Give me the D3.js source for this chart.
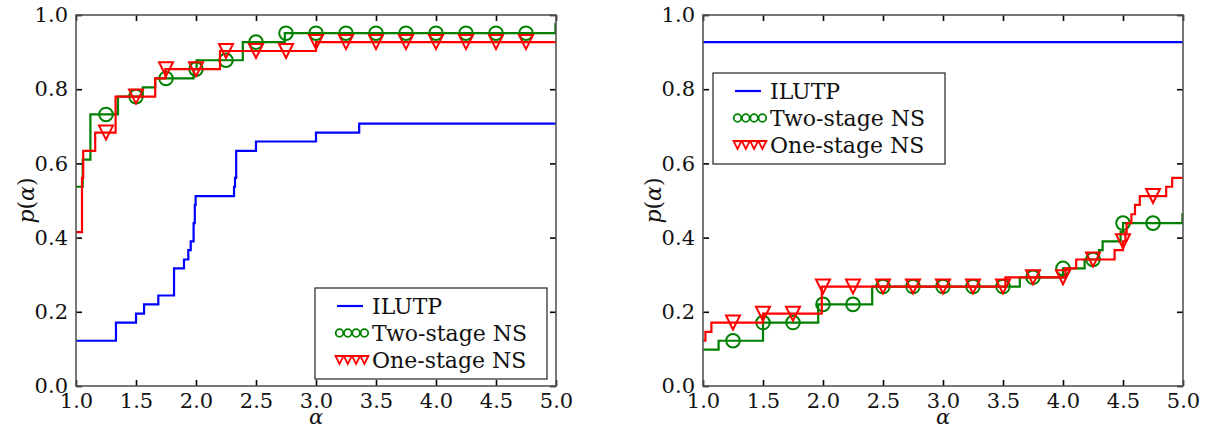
<!DOCTYPE html>
<html>
<head>
<meta charset="utf-8">
<script src="https://cdn.jsdelivr.net/npm/d3@7"></script>
<style>
  body { margin: 0; background: #fff; }
  svg { display: block; }
</style>
</head>
<body>
<script>
// Tick values and marker positions
const alphaTicks = [1.0, 1.5, 2.0, 2.5, 3.0, 3.5, 4.0, 4.5, 5.0]
const pTicks = [0.0, 0.2, 0.4, 0.6, 0.8, 1.0]
const markerAlphas = [1.25, 1.5, 1.75, 2.0, 2.25, 2.5, 2.75, 3.0, 3.25, 3.5, 3.75, 4.0, 4.25, 4.5, 4.75]
const seriesNames = ['ILUTP', 'Two-stage NS', 'One-stage NS']
const seriesColors = ['#0000ff', '#008000', '#ff0000']

// Left panel: [alpha, p(alpha)] where each step starts
const leftIlutp = [[1.0, 0.122], [1.333, 0.171], [1.5, 0.195], [1.567, 0.22], [1.686, 0.244], [1.817, 0.317],
	[1.9, 0.341], [1.936, 0.366], [1.956, 0.39], [1.98, 0.439], [1.99, 0.488], [1.997, 0.512], [2.317, 0.537],
	[2.325, 0.561], [2.335, 0.634], [2.5, 0.659], [3.0, 0.683], [3.36, 0.707]]
const leftTwoStage = [[1.0, 0.537], [1.056, 0.61], [1.12, 0.732], [1.35, 0.78], [1.556, 0.805], [1.66, 0.829],
	[1.98, 0.854], [2.005, 0.878], [2.39, 0.927], [2.74, 0.951], [4.995, 0.976]]
const leftOneStage = [[1.0, 0.415], [1.05, 0.561], [1.06, 0.634], [1.16, 0.683], [1.33, 0.78], [1.66, 0.829],
	[1.745, 0.854], [2.2, 0.903], [3.0, 0.927]]

// Right panel
const rightIlutp = [[1.0, 0.927]]
const rightTwoStage = [[1.0, 0.098], [1.13, 0.122], [1.5, 0.171], [1.96, 0.22], [2.41, 0.268], [3.64, 0.293],
	[4.0, 0.317], [4.18, 0.341], [4.3, 0.366], [4.33, 0.39], [4.48, 0.415], [4.5, 0.439], [4.995, 0.463]]
const rightOneStage = [[1.0, 0.122], [1.02, 0.146], [1.07, 0.171], [1.5, 0.195], [1.99, 0.268], [3.52, 0.293],
	[4.02, 0.317], [4.11, 0.341], [4.43, 0.366], [4.5, 0.39], [4.52, 0.415], [4.53, 0.439], [4.57, 0.463],
	[4.6, 0.488], [4.64, 0.512], [4.86, 0.537], [4.91, 0.561]]

const width = 1206
const height = 430
const plotTop = 15
const plotBottom = 386
const font = 'DejaVu Serif'

const svg = d3.select('body').append('svg').attr('width', width).attr('height', height)

// value of the step function at alpha
function stepValue(steps, a) {
	let v = steps[0][1]
	steps.forEach(s => { if (s[0] <= a + 1e-9) v = s[1] })
	return v
}

function trianglePath(x, y, r) {
	return `M${x - r},${y - r}L${x + r},${y - r}L${x},${y + r}Z`
}

function drawPanel(id, left, right, series, legend) {
	const xscale = d3.scaleLinear().domain([1, 5]).range([left, right])
	const yscale = d3.scaleLinear().domain([0, 1]).range([plotBottom, plotTop])

	svg.append('clipPath').attr('id', 'clip' + id)
		.append('rect').attr('x', left).attr('y', plotTop).attr('width', right - left).attr('height', plotBottom - plotTop)

	const line = d3.line().x(d => xscale(d[0])).y(d => yscale(d[1])).curve(d3.curveStepAfter)

	series.forEach((steps, i) => {
		const pts = steps.concat([[5.0, steps[steps.length - 1][1]]])
		svg.append('path')
			.attr('d', line(pts))
			.attr('fill', 'none')
			.attr('stroke', seriesColors[i])
			.attr('stroke-width', 2.2)
			.attr('clip-path', `url(#clip${id})`)

		if (i === 1) {
			svg.append('g').selectAll('circle').data(markerAlphas).join('circle')
				.attr('cx', d => xscale(d))
				.attr('cy', d => yscale(stepValue(steps, d)))
				.attr('r', 6.8)
				.attr('fill', 'none')
				.attr('stroke', seriesColors[i])
				.attr('stroke-width', 2)
		}
		if (i === 2) {
			svg.append('g').selectAll('path').data(markerAlphas).join('path')
				.attr('d', d => trianglePath(xscale(d), yscale(stepValue(steps, d)), 7))
				.attr('fill', 'none')
				.attr('stroke', seriesColors[i])
				.attr('stroke-width', 2)
		}
	})

	// axes with inward ticks on all four sides
	const fmt = d3.format('.1f')
	const gx = svg.append('g').attr('transform', `translate(0,${plotBottom})`)
		.call(d3.axisBottom(xscale).tickValues(alphaTicks).tickFormat(fmt).tickSize(-6).tickPadding(7))
	const gy = svg.append('g').attr('transform', `translate(${left},0)`)
		.call(d3.axisLeft(yscale).tickValues(pTicks).tickFormat(fmt).tickSize(-6).tickPadding(8))
	const gt = svg.append('g').attr('transform', `translate(0,${plotTop})`)
		.call(d3.axisTop(xscale).tickValues(alphaTicks).tickFormat('').tickSize(-6))
	const gr = svg.append('g').attr('transform', `translate(${right},0)`)
		.call(d3.axisRight(yscale).tickValues(pTicks).tickFormat('').tickSize(-6))

	;[gx, gy, gt, gr].forEach(g => {
		g.select('.domain').remove()
		g.attr('font-family', font).attr('font-size', 21)
		g.selectAll('line').attr('stroke', '#000').attr('stroke-width', 1.6)
		g.selectAll('text').attr('fill', '#111')
	})

	svg.append('rect')
		.attr('x', left).attr('y', plotTop).attr('width', right - left).attr('height', plotBottom - plotTop)
		.attr('fill', 'none').attr('stroke', '#555').attr('stroke-width', 1.6)

	// axis labels
	svg.append('text')
		.attr('x', (left + right) / 2).attr('y', 424)
		.attr('text-anchor', 'middle')
		.attr('font-family', font).attr('font-size', 21).attr('font-style', 'italic')
		.attr('fill', '#111')
		.text('α')

	const ylab = svg.append('text')
		.attr('transform', `translate(${left - 42},${(plotTop + plotBottom) / 2}) rotate(-90)`)
		.attr('text-anchor', 'middle')
		.attr('font-family', font).attr('font-size', 22)
		.attr('fill', '#111')
	ylab.append('tspan').attr('font-style', 'italic').text('p')
	ylab.append('tspan').text('(')
	ylab.append('tspan').attr('font-style', 'italic').text('α')
	ylab.append('tspan').text(')')

	// legend
	const lg = svg.append('g').attr('transform', `translate(${legend[0]},${legend[1]})`)
	lg.append('rect').attr('width', 232).attr('height', 91)
		.attr('fill', '#fff').attr('stroke', '#333').attr('stroke-width', 1.3)

	seriesNames.forEach((name, i) => {
		const cy = 18 + i * 27
		lg.append('text')
			.attr('x', 57).attr('y', cy + 7.5)
			.attr('font-family', font).attr('font-size', 22)
			.attr('fill', '#111')
			.text(name)
		if (i === 0) {
			lg.append('line').attr('x1', 22).attr('x2', 48).attr('y1', cy).attr('y2', cy)
				.attr('stroke', seriesColors[i]).attr('stroke-width', 2.2)
		}
		const xs = [24.5, 32.8, 41.1, 49.4]
		if (i === 1) {
			lg.selectAll('.lc').data(xs).join('circle')
				.attr('cx', d => d).attr('cy', cy).attr('r', 3.8)
				.attr('fill', 'none').attr('stroke', seriesColors[i]).attr('stroke-width', 1.8)
		}
		if (i === 2) {
			lg.selectAll('.lt').data(xs).join('path')
				.attr('d', d => trianglePath(d, cy, 4))
				.attr('fill', 'none').attr('stroke', seriesColors[i]).attr('stroke-width', 1.8)
		}
	})
}

drawPanel(0, 76, 556, [leftIlutp, leftTwoStage, leftOneStage], [315, 288])
drawPanel(1, 703, 1183, [rightIlutp, rightTwoStage, rightOneStage], [713, 73])
</script>
</body>
</html>
